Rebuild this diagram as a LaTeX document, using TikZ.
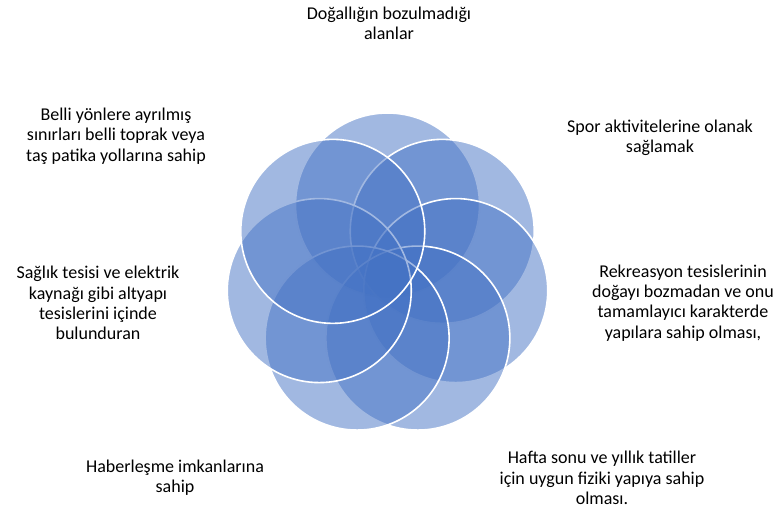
\documentclass[tikz,border=0pt]{standalone}
\usepackage{fontspec}
\setmainfont{Carlito}
\usetikzlibrary{calc}
\definecolor{accent}{HTML}{4472C4}
\begin{document}
\begin{tikzpicture}[x=1pt,y=-1pt,
  petal/.style={circle,minimum size=184pt,inner sep=0pt,fill=accent,fill opacity=0.5,draw=white,draw opacity=1,line width=1.6pt},
  lbl/.style={align=center,inner sep=0pt,font=\fontsize{18}{20.3}\selectfont,text=black}]
\useasboundingbox (0,0) rectangle (773,511);
\coordinate (c) at (387.5,275);
\foreach \i in {0,...,6}{
  \pgfmathsetmacro{\ang}{90-\i*360/7}
  \node[petal] (p\i) at ($(c)+({70*cos(\ang)},{-70*sin(\ang)})$) {};
}
\node[lbl] (t1) at (389,23) {Doğallığın bozulmadığı\\alanlar};
\node[lbl] (t2) at (660,138) {Spor aktivitelerine olanak\\sağlamak};
\node[lbl] (t3) at (683,303) {Rekreasyon tesislerinin\\doğayı bozmadan ve onu\\tamamlayıcı karakterde\\yapılara sahip olması,};
\node[lbl] (t4) at (602,478) {Hafta sonu ve yıllık tatiller\\için uygun fiziki yapıya sahip\\olması.};
\node[lbl] (t5) at (175,478) {Haberleşme imkanlarına\\sahip};
\node[lbl] (t6) at (98,303) {Sağlık tesisi ve elektrik\\kaynağı gibi altyapı\\tesislerini içinde\\bulunduran};
\node[lbl] (t7) at (116,136) {Belli yönlere ayrılmış\\sınırları belli toprak veya\\taş patika yollarına sahip};
\end{tikzpicture}
\end{document}
